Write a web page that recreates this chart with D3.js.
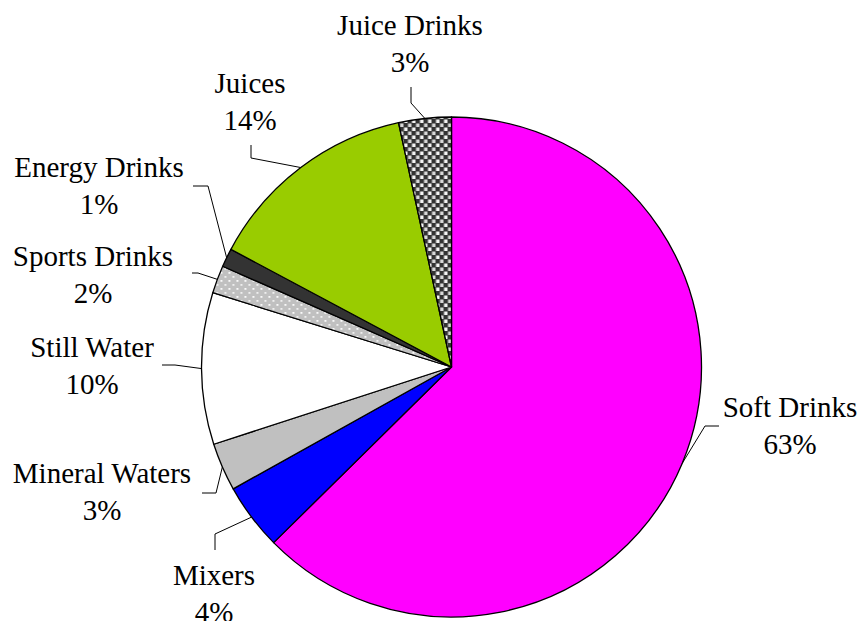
<!DOCTYPE html>
<html><head><meta charset="utf-8">
<script src="https://cdn.jsdelivr.net/npm/d3@7"></script>
<style>body{margin:0;background:#fff}svg{display:block}</style>
</head><body><svg id="c" width="860" height="621"></svg>
<script>
const categories = ["Soft Drinks","Mixers","Mineral Waters","Still Water","Sports Drinks","Energy Drinks","Juices","Juice Drinks"];
const values = [62.6, 4.3, 3.1, 9.8, 1.8, 1.2, 13.8, 3.4];
const pctLabels = ["63%","4%","3%","10%","2%","1%","14%","3%"];
const fills = ["#ff00ff","#0000ff","#c0c0c0","#ffffff","url(#dots)","#333333","#99cc00","url(#checks)"];
// label layout: [labelX, labelBaselineY, elbowX, elbowY, endX, endY]
const layout = [
  [790, 417, 705, 426, 719, 426],
  [214, 585, 215, 534, 215, 550],
  [102, 483, 216, 493, 202, 493],
  [92, 357, 175, 365, 162, 365],
  [93, 266, 198, 273, 192, 273],
  [99, 177, 208, 186, 193, 186],
  [250, 93, 251, 158, 251, 145],
  [410, 35, 411, 103, 411, 87]
];
const cx = 451.5, cy = 367, R = 250;
const svg = d3.select("#c");
const defs = svg.append("defs");
const pd = defs.append("pattern").attr("id","dots").attr("patternUnits","userSpaceOnUse").attr("width",8).attr("height",8);
pd.append("rect").attr("width",8).attr("height",8).attr("fill","#c0c0c0");
pd.append("rect").attr("x",1).attr("y",1).attr("width",1.8).attr("height",1.8).attr("fill","#fff");
pd.append("rect").attr("x",5).attr("y",5).attr("width",1.8).attr("height",1.8).attr("fill","#f4f4f4");
const pc = defs.append("pattern").attr("id","checks").attr("patternUnits","userSpaceOnUse").attr("width",8).attr("height",8);
pc.append("rect").attr("width",8).attr("height",8).attr("fill","#333");
pc.append("rect").attr("x",0.5).attr("y",0.5).attr("width",3.5).attr("height",3.5).attr("fill","#f4f4f4");
pc.append("rect").attr("x",4.5).attr("y",4.5).attr("width",3.5).attr("height",3.5).attr("fill","#d8d8d8");

const pie = d3.pie().sort(null).value(d=>d)(values);
const arc = d3.arc().innerRadius(0).outerRadius(R);
const g = svg.append("g").attr("transform",`translate(${cx},${cy})`);
g.selectAll("path").data(pie).join("path")
  .attr("d",arc).attr("fill",(d,i)=>fills[i]).attr("stroke","#000").attr("stroke-width",1.3).attr("stroke-linejoin","round");

pie.forEach((d,i)=>{
  const a = (d.startAngle+d.endAngle)/2;
  const px = cx + R*Math.sin(a), py = cy - R*Math.cos(a);
  const L = layout[i];
  svg.append("polyline").attr("points",`${px},${py} ${L[2]},${L[3]} ${L[4]},${L[5]}`)
    .attr("fill","none").attr("stroke","#000").attr("stroke-width",1);
  const t = svg.append("text").attr("text-anchor","middle")
    .attr("font-family","'Liberation Serif', Tinos, 'Times New Roman', 'DejaVu Serif', serif")
    .attr("font-size",29).attr("fill","#000");
  t.append("tspan").attr("x",L[0]).attr("y",L[1]).text(categories[i]);
  t.append("tspan").attr("x",L[0]).attr("y",L[1]+37).text(pctLabels[i]);
});
</script></body></html>
